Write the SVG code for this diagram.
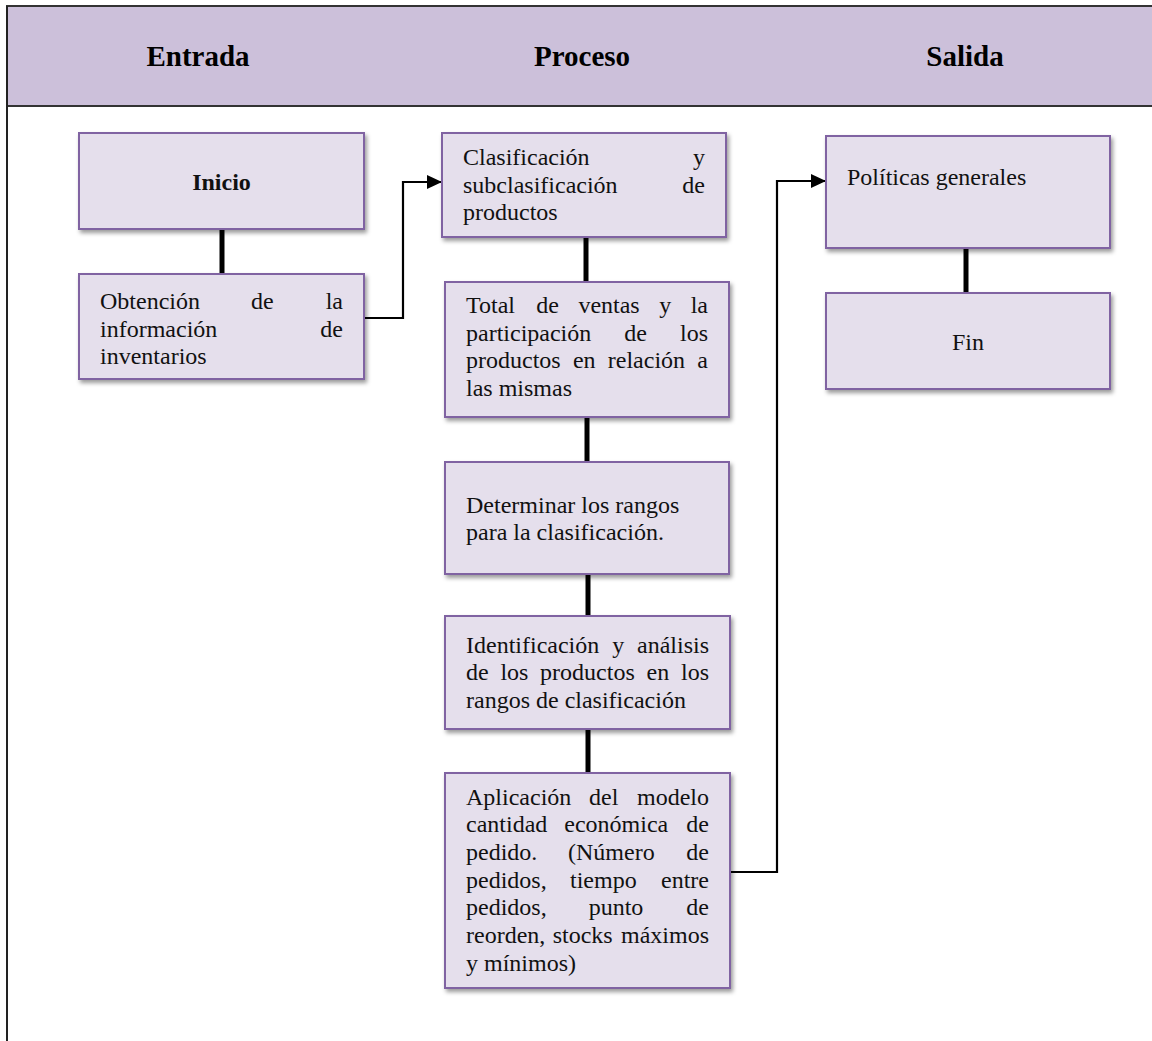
<svg xmlns="http://www.w3.org/2000/svg" width="1152" height="1041" viewBox="0 0 1152 1041">
  <style>
    .hdr { font-family: "Liberation Serif", "Times New Roman", serif; font-size: 29px; font-weight: bold; fill: #000; text-anchor: middle; }
    .box { fill: #E5DFEC; stroke: #8064A2; stroke-width: 2; filter: url(#shadow); }
    .txt { font-family: "Liberation Serif", "Times New Roman", serif; font-size: 24px; fill: #111; }
    .bold { font-weight: bold; }
    .mid { text-anchor: middle; }
    .link { stroke: #000; stroke-width: 5; fill: none; }
    .elbow { stroke: #000; stroke-width: 2.2; fill: none; marker-end: url(#arrow); }
  </style>
  <defs>
    <filter id="shadow" x="-10%" y="-10%" width="125%" height="130%">
      <feDropShadow dx="2" dy="3" stdDeviation="2" flood-color="#000" flood-opacity="0.4"/>
    </filter>
    <marker id="arrow" viewBox="0 0 15 14" refX="15" refY="7" markerWidth="15" markerHeight="14" markerUnits="userSpaceOnUse" orient="auto">
      <path d="M0,0 L15,7 L0,14 Z" fill="#000"/>
    </marker>
  </defs>

  <rect width="1152" height="1041" fill="#fff"/>

  <!-- table frame and header band -->
  <g id="header">
    <rect x="7" y="6" width="1160" height="100" fill="#CCC0DA" stroke="#333" stroke-width="2"/>
    <line x1="7" y1="6" x2="7" y2="1041" stroke="#222" stroke-width="2"/>
    <text class="hdr" x="198" y="66">Entrada</text>
    <text class="hdr" x="582" y="66">Proceso</text>
    <text class="hdr" x="965" y="66">Salida</text>
  </g>

  <!-- connectors -->
  <g id="connectors">
    <line class="link" x1="222" y1="229" x2="222" y2="274"/>
    <line class="link" x1="586" y1="237" x2="586" y2="282"/>
    <line class="link" x1="587" y1="417" x2="587" y2="462"/>
    <line class="link" x1="588" y1="574" x2="588" y2="616"/>
    <line class="link" x1="588" y1="729" x2="588" y2="773"/>
    <line class="link" x1="966" y1="248" x2="966" y2="293"/>
    <polyline class="elbow" points="364,318 403,318 403,182 442,182"/>
    <polyline class="elbow" points="730,872 777,872 777,181 826,181"/>
  </g>

  <g id="inicio">
    <rect class="box" x="79" y="133" width="285" height="96"/>
    <text class="txt bold mid" x="221.5" y="190">Inicio</text>
  </g>

  <g id="obtencion">
    <rect class="box" x="79" y="274" width="285" height="105"/>
    <text class="txt" y="309"><tspan x="100">Obtención</tspan><tspan x="251">de</tspan><tspan x="325.7">la</tspan></text>
    <text class="txt" y="337"><tspan x="100">información</tspan><tspan x="320.3">de</tspan></text>
    <text class="txt" x="100" y="364">inventarios</text>
  </g>

  <g id="clasificacion">
    <rect class="box" x="442" y="133" width="284" height="104"/>
    <text class="txt" y="165"><tspan x="463">Clasificación</tspan><tspan x="693">y</tspan></text>
    <text class="txt" y="193"><tspan x="463">subclasificación</tspan><tspan x="682.3">de</tspan></text>
    <text class="txt" x="463" y="220">productos</text>
  </g>

  <g id="total-ventas">
    <rect class="box" x="445" y="282" width="284" height="135"/>
    <text class="txt" y="313"><tspan x="466">Total</tspan><tspan x="536.2">de</tspan><tspan x="578.4">ventas</tspan><tspan x="659.2">y</tspan><tspan x="690.7">la</tspan></text>
    <text class="txt" y="341"><tspan x="466">participación</tspan><tspan x="624.3">de</tspan><tspan x="680">los</tspan></text>
    <text class="txt" y="368"><tspan x="466">productos</tspan><tspan x="572.9">en</tspan><tspan x="607.8">relación</tspan><tspan x="697.3">a</tspan></text>
    <text class="txt" x="466" y="396">las mismas</text>
  </g>

  <g id="rangos">
    <rect class="box" x="445" y="462" width="284" height="112"/>
    <text class="txt" x="466" y="513">Determinar los rangos</text>
    <text class="txt" x="466" y="540">para la clasificación.</text>
  </g>

  <g id="identificacion">
    <rect class="box" x="445" y="616" width="285" height="113"/>
    <text class="txt" y="653"><tspan x="466">Identificación</tspan><tspan x="612.2">y</tspan><tspan x="637">análisis</tspan></text>
    <text class="txt" y="680"><tspan x="466">de</tspan><tspan x="500.4">los</tspan><tspan x="540.1">productos</tspan><tspan x="646.5">en</tspan><tspan x="681">los</tspan></text>
    <text class="txt" x="466" y="708">rangos de clasificación</text>
  </g>

  <g id="aplicacion">
    <rect class="box" x="445" y="773" width="285" height="215"/>
    <text class="txt" y="805"><tspan x="466">Aplicación</tspan><tspan x="589">del</tspan><tspan x="637">modelo</tspan></text>
    <text class="txt" y="832"><tspan x="466">cantidad</tspan><tspan x="564.3">económica</tspan><tspan x="686.3">de</tspan></text>
    <text class="txt" y="860"><tspan x="466">pedido.</tspan><tspan x="568">(Número</tspan><tspan x="686.3">de</tspan></text>
    <text class="txt" y="888"><tspan x="466">pedidos,</tspan><tspan x="570">tiempo</tspan><tspan x="661">entre</tspan></text>
    <text class="txt" y="915"><tspan x="466">pedidos,</tspan><tspan x="588.7">punto</tspan><tspan x="686.3">de</tspan></text>
    <text class="txt" y="943"><tspan x="466">reorden,</tspan><tspan x="552.7">stocks</tspan><tspan x="621">máximos</tspan></text>
    <text class="txt" x="466" y="971">y mínimos)</text>
  </g>

  <g id="politicas">
    <rect class="box" x="826" y="136" width="284" height="112"/>
    <text class="txt" x="847" y="185">Políticas generales</text>
  </g>

  <g id="fin">
    <rect class="box" x="826" y="293" width="284" height="96"/>
    <text class="txt mid" x="968" y="350">Fin</text>
  </g>
</svg>
